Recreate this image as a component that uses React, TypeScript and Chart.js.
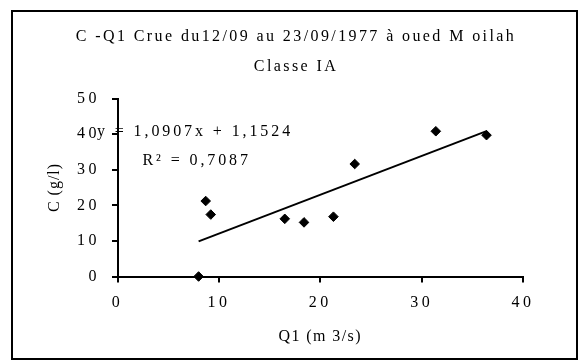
import React, { useEffect, useRef } from "react";
import { Chart, registerables } from "chart.js";

Chart.register(...registerables);

// ---- data ----
const TITLE_LINES = ["C -Q1 Crue du12/09 au 23/09/1977 à oued M oilah", "Classe IA"];
const X_TITLE = "Q1 (m 3/s)";
const Y_TITLE = "C (g/l)";
const Q1_VALUES = [8.0, 8.7, 9.2, 16.5, 18.4, 21.3, 23.4, 31.4, 36.4];
const C_VALUES = [0.0, 21.2, 17.4, 16.2, 15.2, 16.8, 31.6, 40.8, 39.7];
const TREND_SLOPE = 1.0907;
const TREND_INTERCEPT = 1.1524;
const EQUATION_LABEL = "y = 1,0907x + 1,1524";
const R2_LABEL = "R² = 0,7087";
const X_MIN = 0;
const X_MAX = 40;
const X_STEP = 10;
const Y_MIN = 0;
const Y_MAX = 50;
const Y_STEP = 10;

const FONT_FAMILY = "'Liberation Serif', 'Times New Roman', serif";
const TITLE_SPACING = "2.4px";
const NOTE_SPACING = "2.9px";
const TICK_SPACING = "3.5px";

function withSpacing(scale: any, method: string, spacing: string) {
  const key = "__spaced_" + method;
  if (scale[key]) return;
  const orig = scale[method];
  if (typeof orig !== "function") return;
  scale[method] = function (...args: any[]) {
    const ctx = this.ctx;
    const prev = ctx.letterSpacing;
    ctx.letterSpacing = spacing;
    const r = orig.apply(this, args);
    ctx.letterSpacing = prev;
    return r;
  };
  scale[key] = true;
}

export default function App() {
  const ref = useRef<HTMLCanvasElement>(null);

  useEffect(() => {
    const canvas = ref.current;
    if (!canvas) return;

    const points = Q1_VALUES.map((x, i) => ({ x, y: C_VALUES[i] }));
    const xLo = Math.min(...Q1_VALUES);
    const xHi = Math.max(...Q1_VALUES);
    const trend = [
      { x: xLo, y: TREND_SLOPE * xLo + TREND_INTERCEPT },
      { x: xHi, y: TREND_SLOPE * xHi + TREND_INTERCEPT },
    ];

    const framePlugin = {
      id: "frameAndSpacing",
      beforeUpdate(chart: any) {
        chart.ctx.letterSpacing = TITLE_SPACING;
      },
      beforeDraw(chart: any) {
        const ctx = chart.ctx;
        ctx.letterSpacing = TITLE_SPACING;
        ctx.save();
        ctx.fillStyle = "#ffffff";
        ctx.fillRect(0, 0, chart.width, chart.height);
        ctx.restore();
      },
      afterDraw(chart: any) {
        const ctx = chart.ctx;
        const area = chart.chartArea;
        ctx.save();
        ctx.letterSpacing = NOTE_SPACING;
        ctx.fillStyle = "#000";
        ctx.font = `16px ${FONT_FAMILY}`;
        ctx.textAlign = "left";
        ctx.textBaseline = "middle";
        ctx.fillText(EQUATION_LABEL, area.left - 20.5, area.top + 33.5);
        ctx.fillText(R2_LABEL, area.left + 25, area.top + 62.5);
        ctx.lineWidth = 2;
        ctx.strokeStyle = "#000";
        ctx.strokeRect(12, 11, 565, 348);
        ctx.restore();
      },
    };

    const tickFont = { family: FONT_FAMILY, size: 16 };

    const chart = new Chart(canvas, {
      type: "scatter",
      data: {
        datasets: [
          {
            data: trend,
            showLine: true,
            borderColor: "#000",
            borderWidth: 2,
            pointRadius: 0,
            fill: false,
            clip: false as any,
          } as any,
          {
            data: points,
            pointStyle: "rectRot",
            pointRadius: 4.8,
            backgroundColor: "#000",
            borderColor: "#000",
            borderWidth: 1,
            clip: false as any,
          } as any,
        ],
      },
      options: {
        animation: false,
        responsive: false,
        maintainAspectRatio: false,
        layout: { padding: { left: 30, right: 16, top: 0, bottom: 0 } },
        plugins: {
          legend: { display: false },
          tooltip: { enabled: false },
          title: {
            display: true,
            text: TITLE_LINES,
            color: "#000",
            font: { family: FONT_FAMILY, size: 16, weight: "normal", lineHeight: 30.5 / 16 },
            padding: { top: 21.25, bottom: 16.25 },
          },
        },
        scales: {
          x: {
            type: "linear",
            position: "bottom",
            min: X_MIN,
            max: X_MAX,
            ticks: { stepSize: X_STEP, color: "#000", font: tickFont, padding: 10.5, maxRotation: 0 },
            grid: { display: true, drawOnChartArea: false, drawTicks: true, tickLength: 6, color: "#000", lineWidth: 2 },
            border: { display: true, color: "#000", width: 2 },
            title: {
              display: true,
              text: X_TITLE,
              color: "#000",
              font: tickFont,
              padding: { top: 0, bottom: 14 },
            },
            afterFit(scale: any) {
              scale.height = 83.5;
              withSpacing(scale, "drawLabels", TICK_SPACING);
              withSpacing(scale, "drawTitle", "1.4px");
            },
          },
          y: {
            type: "linear",
            position: "left",
            min: Y_MIN,
            max: Y_MAX,
            ticks: { stepSize: Y_STEP, color: "#000", font: tickFont, padding: 12 },
            grid: { display: true, drawOnChartArea: false, drawTicks: true, tickLength: 5.5, color: "#000", lineWidth: 2 },
            border: { display: true, color: "#000", width: 2 },
            title: {
              display: true,
              text: Y_TITLE,
              color: "#000",
              font: tickFont,
              padding: { top: 15.5, bottom: 0 },
            },
            afterFit(scale: any) {
              scale.width = 87.5;
              withSpacing(scale, "drawLabels", TICK_SPACING);
              withSpacing(scale, "drawTitle", "1px");
            },
          },
          y2: {
            type: "linear",
            position: "right",
            display: true,
            grid: { display: false },
            ticks: { display: false },
            border: { display: false },
            afterFit(scale: any) {
              scale.width = 39;
            },
          },
        },
      } as any,
      plugins: [framePlugin as any],
    });

    return () => chart.destroy();
  }, []);

  return (
    <div style={{ position: "fixed", left: 0, top: 0, width: 578, height: 360, background: "#fff" }}>
      <canvas ref={ref} width={578} height={360} style={{ display: "block", width: 578, height: 360 }} />
    </div>
  );
}
